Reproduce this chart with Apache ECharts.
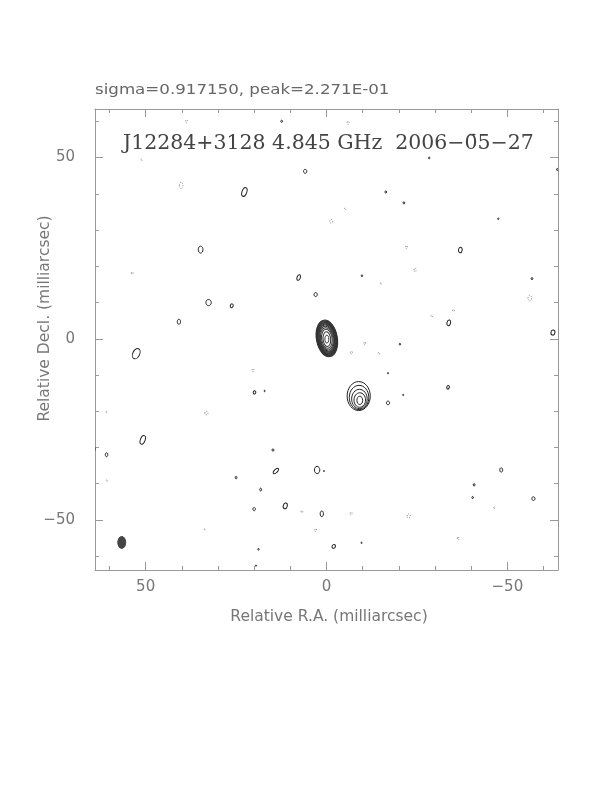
<!DOCTYPE html>
<html>
<head>
<meta charset="utf-8">
<script src="https://cdn.jsdelivr.net/npm/echarts@6/dist/echarts.min.js"></script>
<style>
html,body{margin:0;padding:0;background:#fff;}
#chart{width:612px;height:792px;}
</style>
</head>
<body>
<div id="chart"></div>
<script>
// ---- data (milliarcsec) ----
const plotTitle = 'sigma=0.917150, peak=2.271E-01';
const mapLabel = 'J12284+3128 4.845 GHz  2006\u22120\u03045\u221227';
const xName = 'Relative R.A. (milliarcsec)';
const yName = 'Relative Decl. (milliarcsec)';
const xRange = [-64, 64];
const yRange = [-63.8, 63.4];
const minorTicks = [-60, -50, -40, -30, -20, -10, 0, 10, 20, 30, 40, 50, 60];
const majorTicks = [-50, 0, 50];
const tickLabels = [-50, 0, 50];

// contour ellipses: [RA, Dec, width, height, tilt(deg)]
const coreContours = [
  [-0.1, 0.1, 5.8, 10.2, -10], [-0.1, 0.1, 5.6, 9.9, -10], [-0.1, 0.1, 5.4, 9.55, -10],
  [-0.1, 0.1, 5.2, 9.2, -10], [-0.1, 0.1, 5.0, 8.85, -10], [-0.1, 0.1, 4.75, 8.45, -10],
  [-0.1, 0.1, 4.5, 8.0, -10], [-0.1, 0.1, 4.2, 7.5, -10], [-0.1, 0.05, 3.85, 6.9, -10],
  [-0.1, 0.0, 3.45, 6.2, -9], [-0.1, 0.0, 2.9, 5.3, -7], [-0.1, -0.1, 2.1, 4.1, -5],
  [-0.1, -0.1, 1.1, 2.2, 0]
];
const jetContours = [
  [-8.9, -15.8, 6.4, 8.0, 0], [-9.0, -16.2, 5.4, 6.7, 0], [-9.1, -16.6, 4.3, 5.3, 0],
  [-9.2, -16.9, 3.2, 4.0, 0], [-9.2, -17.0, 1.6, 2.3, 0]
];
const positiveContours = [
  [5.9, 46.2, 0.9, 1.1, 0], [22.7, 40.5, 1.3, 2.5, 20], [34.8, 24.6, 1.3, 1.9, 0],
  [7.7, 16.9, 0.9, 1.6, 20], [3.0, 12.2, 0.9, 1.1, 0], [32.6, 10.0, 1.5, 1.7, 0],
  [26.2, 9.1, 0.8, 1.1, 15], [40.8, 4.7, 0.9, 1.4, 0], [52.6, -4.1, 1.9, 3.0, 25],
  [-16.4, 40.5, 0.5, 0.6, 0], [-21.4, 37.5, 0.5, 0.6, 0], [-47.5, 33.1, 0.4, 0.4, 0],
  [-37.0, 24.5, 1.0, 1.5, 10], [-9.8, 17.4, 0.4, 0.5, 0], [-56.8, 16.6, 0.5, 0.6, 0],
  [-33.8, 4.4, 1.0, 1.6, 15], [-62.6, 1.7, 1.1, 1.4, 10], [-20.3, -1.5, 0.4, 0.5, 0],
  [60.8, -32.0, 0.7, 1.1, 0], [50.8, -27.9, 1.3, 2.5, 20], [14.8, -30.7, 0.6, 0.6, 0],
  [14.0, -36.5, 0.9, 1.9, 45], [2.6, -36.2, 1.5, 2.0, 0], [0.7, -36.5, 0.3, 0.3, 0],
  [25.0, -38.3, 0.5, 0.7, 0], [18.2, -41.6, 0.5, 0.8, 0], [20.0, -47.0, 0.7, 0.9, 0],
  [11.4, -46.1, 1.1, 1.6, 15], [1.3, -48.3, 0.9, 1.6, 0], [18.8, -58.1, 0.4, 0.5, 0],
  [-2.0, -57.3, 0.9, 1.1, 30], [-17.0, -17.7, 0.9, 1.0, 0], [-48.3, -36.2, 0.8, 1.2, 0],
  [-40.8, -40.3, 0.5, 0.7, 0], [-40.4, -43.8, 0.4, 0.6, 0], [-57.2, -44.1, 0.9, 1.0, 0],
  [19.9, -14.8, 0.7, 0.9, 20], [17.1, -14.4, 0.3, 0.4, 0], [-33.6, -13.4, 0.7, 1.0, 20],
  [12.4, 60.0, 0.5, 0.6, 0], [-28.4, 49.9, 0.4, 0.5, 0], [-63.8, 46.7, 0.4, 0.6, 0],
  [-9.7, -56.3, 0.3, 0.4, 0], [19.5, -62.6, 0.3, 0.4, 0], [-21.2, -15.5, 0.3, 0.4, 0],
  [-17.0, -9.5, 0.3, 0.4, 0], [64.3, -30.4, 0.6, 1.6, 0]
];
const negativeContours = [
  [40.2, 42.3, 1.0, 1.8, 0], [-1.3, 32.4, 0.8, 1.0, 0], [53.7, 18.1, 0.5, 0.7, 0],
  [-5.2, 35.9, 0.4, 0.5, 0], [-22.1, 25.3, 0.5, 0.8, 0], [-24.5, 19.0, 0.6, 1.0, 0],
  [-56.2, 11.2, 1.0, 1.6, 0], [-35.1, 7.8, 0.5, 0.6, 0], [-29.1, 6.2, 0.5, 0.5, 0],
  [-10.6, -1.3, 0.5, 0.8, 0], [-6.9, -3.8, 0.6, 0.7, 0], [-14.5, -4.0, 0.5, 0.5, 0],
  [-15.1, 15.3, 0.4, 0.4, 0], [60.8, -20.2, 0.4, 0.4, 0], [33.2, -20.5, 0.9, 1.0, 0],
  [60.7, -39.1, 0.4, 0.5, 0], [6.8, -47.7, 0.5, 0.6, 0], [33.6, -52.6, 0.3, 0.4, 0],
  [3.0, -52.8, 0.5, 0.8, 0], [-46.4, -46.6, 0.4, 0.4, 0], [-6.8, -48.2, 0.6, 0.7, 0],
  [-22.7, -48.9, 0.9, 1.2, 0], [-36.4, -55.1, 0.5, 0.9, 0], [38.7, 60.0, 0.6, 0.8, 0],
  [-6.0, 59.6, 0.6, 0.8, 0], [51.1, 49.4, 0.4, 0.5, 0], [20.3, -8.7, 0.6, 0.8, 0]
];
const beam = [[56.6, -56.2, 2.2, 3.3, 0]];

// ---- chart ----
const frameColor = '#999';
const textColor = '#777';
const chart = echarts.init(document.getElementById('chart'), null, {renderer: 'canvas'});

function ellipseRenderer(style) {
  return function (params, api) {
    const c = api.coord([api.value(0), api.value(1)]);
    const s = api.size([api.value(2), api.value(3)]);
    return {
      type: 'ellipse',
      x: c[0], y: c[1],
      rotation: -api.value(4) * Math.PI / 180,
      shape: {cx: 0, cy: 0, rx: Math.abs(s[0]) / 2, ry: Math.abs(s[1]) / 2},
      style: style
    };
  };
}
function ellSeries(data, style) {
  return {
    type: 'custom', coordinateSystem: 'cartesian2d', xAxisIndex: 0, yAxisIndex: 0,
    clip: true, silent: true, animation: false,
    renderItem: ellipseRenderer(style),
    data: data
  };
}
const fmt = v => (v < 0 ? '\u2212' + Math.abs(v) : String(v));
function axis(dim, pos, len, ticks, showLine, label) {
  const range = dim === 'x' ? xRange : yRange;
  return {
    type: 'value', position: pos, min: range[0], max: range[1],
    inverse: dim === 'x',
    axisLine: {show: showLine, onZero: false, lineStyle: {color: frameColor, width: 1}},
    axisTick: {show: true, inside: true, length: len, customValues: ticks,
               lineStyle: {color: frameColor, width: 1}},
    axisLabel: label || {show: false},
    splitLine: {show: false}
  };
}
const labelStyle = (margin) => ({
  show: true, customValues: tickLabels, formatter: fmt, color: textColor,
  fontFamily: 'DejaVu Sans', fontSize: 15, margin: margin
});

chart.setOption({
  backgroundColor: '#fff',
  animation: false,
  grid: {left: 95, top: 109, width: 463, height: 461, containLabel: false},
  xAxis: [
    axis('x', 'bottom', 4, minorTicks, true, labelStyle(10)),
    axis('x', 'bottom', 8, majorTicks, false),
    axis('x', 'top', 4, minorTicks, true),
    axis('x', 'top', 8, majorTicks, false)
  ],
  yAxis: [
    axis('y', 'left', 4, minorTicks, true, labelStyle(20)),
    axis('y', 'left', 8, majorTicks, false),
    axis('y', 'right', 4, minorTicks, true),
    axis('y', 'right', 8, majorTicks, false)
  ],
  series: [
    ellSeries(negativeContours, {fill: null, stroke: '#888', lineWidth: 1, lineDash: [1, 1.5]}),
    ellSeries(positiveContours, {fill: null, stroke: '#222', lineWidth: 1}),
    ellSeries(jetContours, {fill: null, stroke: '#222', lineWidth: 1}),
    ellSeries(coreContours, {fill: null, stroke: '#333', lineWidth: 1}),
    ellSeries(beam, {fill: '#444', stroke: '#444', lineWidth: 1})
  ],
  graphic: [
    {type: 'text', x: 95, y: 90, scaleX: 1.19, silent: true,
     style: {text: plotTitle, fill: '#666', font: '14px "DejaVu Sans"', verticalAlign: 'middle', align: 'left'}},
    {type: 'text', x: 123, y: 143.5, scaleX: 1.05, silent: true,
     style: {text: mapLabel, fill: '#444', font: '19.5px "DejaVu Serif"', verticalAlign: 'middle', align: 'left'}},
    {type: 'text', x: 329, y: 617, silent: true,
     style: {text: xName, fill: textColor, font: '15.5px "DejaVu Sans"', verticalAlign: 'middle', align: 'center'}},
    {type: 'text', x: 44.5, y: 318.5, rotation: Math.PI / 2, silent: true,
     style: {text: yName, fill: textColor, font: '15.5px "DejaVu Sans"', verticalAlign: 'middle', align: 'center'}}
  ]
});
</script>
</body>
</html>
